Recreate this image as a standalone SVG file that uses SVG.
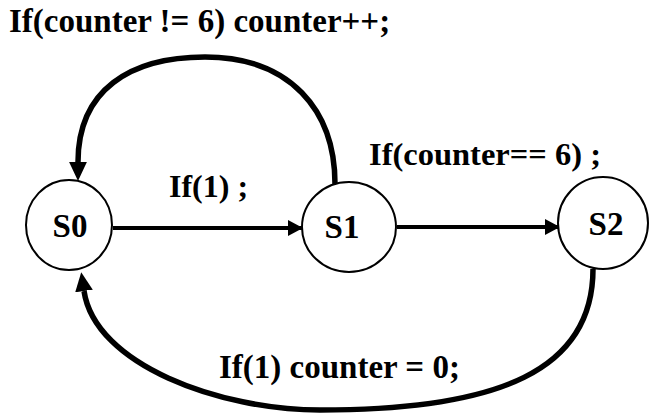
<svg xmlns="http://www.w3.org/2000/svg" width="650" height="413" viewBox="0 0 650 413">
<style>
.t{font-family:"Liberation Serif","Times New Roman",serif;font-weight:bold;fill:#000}
.node{fill:#fff;stroke:#000;stroke-width:2}
.line{fill:none;stroke:#000;stroke-width:4}
.arc{fill:none;stroke:#000;stroke-width:5.5}
</style>
<defs>
<marker id="ah" markerUnits="userSpaceOnUse" markerWidth="16" markerHeight="18" refX="14" refY="8" orient="auto" viewBox="0 0 16 16">
<path d="M0,0 L15,8 L0,16 z" fill="#000"/>
</marker>
<marker id="ahb" markerUnits="userSpaceOnUse" markerWidth="20" markerHeight="18" refX="0" refY="8" orient="auto" viewBox="0 0 18 16">
<path d="M0,0 L17,8 L0,16 z" fill="#000"/>
</marker>
</defs>
<rect width="650" height="413" fill="#fff"/>
<g id="connectors">
<path class="line" d="M113,228 L302,228" marker-end="url(#ah)"/>
<path class="line" d="M397,227 L559,227" marker-end="url(#ah)"/>
<path class="arc" d="M335,184 C335,110 290,57 205,57 C130,57 78,90 78,162" marker-end="url(#ahb)"/>
<path class="arc" d="M593,269 C593,370 500,410 320,410 C220,410 95,365 84,291" marker-end="url(#ahb)"/>
</g>
<g id="S0">
<ellipse class="node" cx="69" cy="225" rx="43" ry="45"/>
<text class="t" x="70" y="237" font-size="33" text-anchor="middle">S0</text>
</g>
<g id="S1">
<ellipse class="node" cx="349" cy="227" rx="47" ry="45"/>
<text class="t" x="342" y="238" font-size="33" text-anchor="middle">S1</text>
</g>
<g id="S2">
<ellipse class="node" cx="603" cy="223" rx="45" ry="46"/>
<text class="t" x="606" y="235" font-size="33" text-anchor="middle">S2</text>
</g>
<g id="labels">
<text class="t" x="9" y="32" font-size="33">If(counter != 6) counter++;</text>
<text class="t" x="369" y="165" font-size="32.5">If(counter== 6) ;</text>
<text class="t" x="169" y="197" font-size="32">If(1) ;</text>
<text class="t" x="219" y="378" font-size="33">If(1) counter = 0;</text>
</g>
</svg>
